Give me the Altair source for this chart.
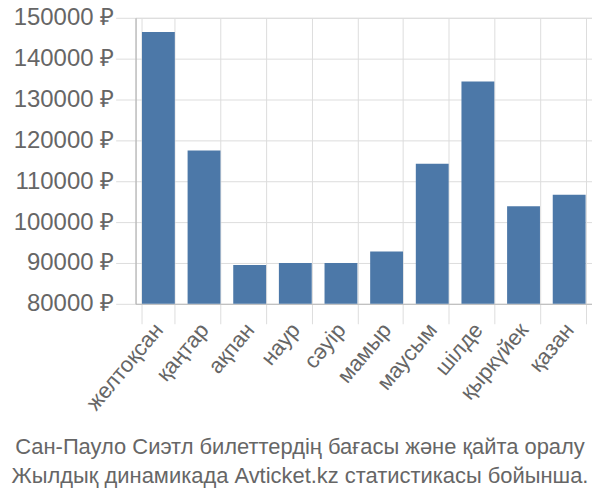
import altair as alt
import pandas as pd

months = ["желтоқсан", "қаңтар", "ақпан", "наур", "сәуір", "мамыр",
          "маусым", "шілде", "қыркүйек", "қазан"]
prices = [146500, 117500, 89500, 90000, 90000, 92800, 114300, 134400, 103900, 106700]
base_value = 80000
y_ticks = [80000, 90000, 100000, 110000, 120000, 130000, 140000, 150000]
title_lines = ["Сан-Пауло Сиэтл билеттердің бағасы және қайта оралу",
               "Жылдық динамикада Avticket.kz статистикасы бойынша."]

df = pd.DataFrame({"month": months, "price": prices, "base": [base_value] * len(months)})

FONT = "Liberation Sans"
GREY = "#666666"

chart = alt.Chart(df).mark_bar(color="#4c78a8").encode(
    x=alt.X("month:N", sort=months, title=None,
            scale=alt.Scale(paddingInner=0.28, paddingOuter=0.14),
            axis=alt.Axis(labelAngle=-50, tickBand="extent", labelFontSize=22,
                          labelColor=GREY, labelFont=FONT, tickSize=20,
                          tickColor="#dddddd", gridColor="#dddddd", grid=True,
                          domainColor="#bbbbbb", labelPadding=2)),
    y=alt.Y("price:Q", title=None,
            scale=alt.Scale(domain=[80000, 150000], zero=False, nice=False),
            axis=alt.Axis(values=y_ticks, labelExpr="datum.value + ' ₽'",
                          labelFontSize=24, labelColor=GREY, labelFont=FONT,
                          tickSize=20, tickColor="#dddddd", gridColor="#dddddd",
                          domainColor="#aaaaaa", labelPadding=2)),
    y2="base:Q",
).properties(
    width=458, height=287,
    title=alt.TitleParams(text=title_lines, orient="bottom", anchor="middle",
                          fontSize=22, font=FONT, color=GREY, fontWeight="normal",
                          lineHeight=29, offset=23, dx=-64),
    autosize=alt.AutoSizeParams(type="none"),
    padding={"left": 128, "top": 9, "right": 0, "bottom": 188},
).configure_view(stroke="#dddddd")

chart.save("out.html", embed_options={"renderer": "svg", "actions": False})
